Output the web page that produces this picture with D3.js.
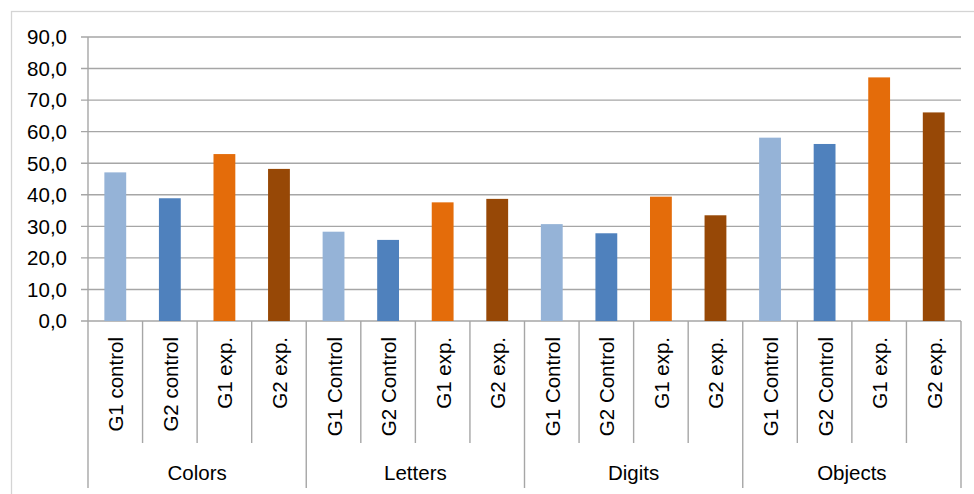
<!DOCTYPE html>
<html>
<head>
<meta charset="utf-8">
<script src="https://cdn.jsdelivr.net/npm/d3@7"></script>
<style>
  html, body { margin: 0; padding: 0; background: #fff; }
  svg { display: block; font-family: "Liberation Sans", Arial, sans-serif; }
</style>
</head>
<body>
<svg id="chart" width="974" height="494"></svg>
<script>
const groups = ["Colors", "Letters", "Digits", "Objects"];
const barLabels = [
  ["G1 control", "G2 control", "G1 exp.", "G2 exp."],
  ["G1 Control", "G2 Control", "G1 exp.", "G2 exp."],
  ["G1 Control", "G2 Control", "G1 exp.", "G2 exp."],
  ["G1 Control", "G2 Control", "G1 exp.", "G2 exp."]
];
const values = [
  [47.1, 38.9, 52.9, 48.2],
  [28.3, 25.7, 37.6, 38.7],
  [30.7, 27.8, 39.4, 33.5],
  [58.1, 56.1, 77.2, 66.1]
];
const colors = ["#95b3d7", "#4f81bd", "#e46c0a", "#974806"];
const yTicks = [0, 10, 20, 30, 40, 50, 60, 70, 80, 90];

const items = [];
groups.forEach((g, gi) => {
  barLabels[gi].forEach((lab, bi) => {
    items.push({ key: gi + "-" + bi, group: g, gi, bi, label: lab, value: values[gi][bi], color: colors[bi] });
  });
});

const svg = d3.select("#chart");
const pLeft = 88, pRight = 961, pTop = 37, pBottom = 321;
const fs = 20.5;

// outer chart border
svg.append("rect").attr("x", 11.5).attr("y", 11.5).attr("width", 980).attr("height", 500)
  .attr("fill", "none").attr("stroke", "#d4d4d4").attr("stroke-width", 1.3);

const x = d3.scaleBand().domain(items.map(d => d.key)).range([pLeft, pRight]).paddingInner(0).paddingOuter(0);
const y = d3.scaleLinear().domain([0, 90]).range([pBottom, pTop]);

// gridlines
svg.append("g").selectAll("line").data(yTicks).join("line")
  .attr("x1", pLeft - 7).attr("x2", pRight)
  .attr("y1", d => y(d)).attr("y2", d => y(d))
  .attr("stroke", "#a6a6a6").attr("stroke-width", 1.4);

// y axis line
svg.append("line").attr("x1", pLeft).attr("x2", pLeft).attr("y1", pTop).attr("y2", pBottom)
  .attr("stroke", "#a6a6a6").attr("stroke-width", 1.4);

// y tick labels
const fmt = d => d.toFixed(1).replace(".", ",");
svg.append("g").selectAll("text").data(yTicks).join("text")
  .attr("x", 67).attr("y", d => y(d)).attr("dy", "0.36em")
  .attr("text-anchor", "end").attr("font-size", fs).attr("fill", "#000")
  .text(fmt);

// bars
const bw = x.bandwidth() * 0.4;
svg.append("g").selectAll("rect").data(items).join("rect")
  .attr("x", d => x(d.key) + (x.bandwidth() - bw) / 2)
  .attr("width", bw)
  .attr("y", d => y(d.value))
  .attr("height", d => y(0) - y(d.value))
  .attr("fill", d => d.color);

// category separators
const sepG = svg.append("g");
items.forEach(d => {
  const xx = x(d.key);
  sepG.append("line").attr("x1", xx).attr("x2", xx)
    .attr("y1", pBottom).attr("y2", d.bi === 0 ? 488 : 443)
    .attr("stroke", "#a6a6a6").attr("stroke-width", 1.4);
});
sepG.append("line").attr("x1", pRight).attr("x2", pRight).attr("y1", pBottom).attr("y2", 488)
  .attr("stroke", "#a6a6a6").attr("stroke-width", 1.4);

// bar labels (rotated)
svg.append("g").selectAll("text").data(items).join("text")
  .attr("transform", d => `translate(${x(d.key) + x.bandwidth() / 2 + 8},337) rotate(-90)`)
  .attr("text-anchor", "end").attr("font-size", fs).attr("fill", "#000")
  .text(d => d.label);

// group labels
svg.append("g").selectAll("text").data(groups).join("text")
  .attr("x", (g, gi) => (x(gi + "-0") + x(gi + "-3") + x.bandwidth()) / 2)
  .attr("y", 480)
  .attr("text-anchor", "middle").attr("font-size", fs).attr("fill", "#000")
  .text(g => g);
</script>
</body>
</html>
